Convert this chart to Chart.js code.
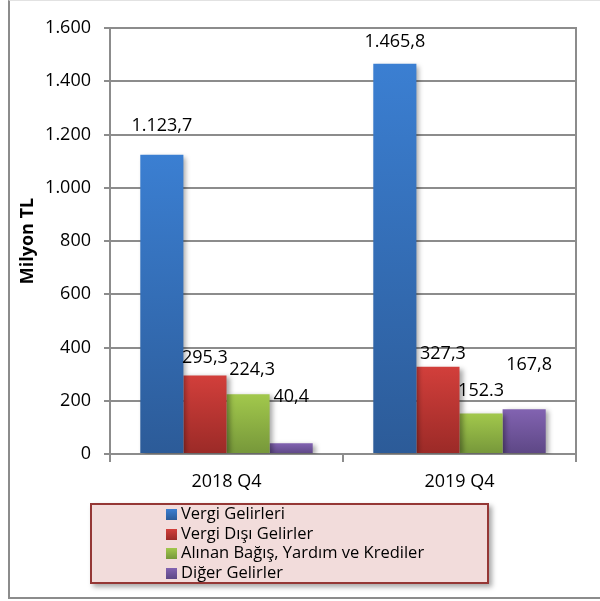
<!DOCTYPE html>
<html>
<head>
<meta charset="utf-8">
<script src="https://cdn.jsdelivr.net/npm/chart.js@4"></script>
<style>
  html, body { margin: 0; padding: 0; background: #fff; }
  #wrap { position: relative; width: 600px; height: 601px; overflow: hidden; }
  #frame { position: absolute; left: 8px; top: 0; width: 600px; height: 599px;
    border-left: 2px solid #8c8c8c; border-bottom: 2px solid #8c8c8c; border-top: 1px solid #e2e2e2;
    box-sizing: border-box; pointer-events: none; }
  #legend { position: absolute; left: 90px; top: 503px; width: 399px; height: 81px; box-sizing: border-box;
    background: #f2dcdb; border: 2px solid #953735; box-shadow: 3px 3px 5px rgba(0,0,0,0.35);
    font-family: "Open Sans", sans-serif; font-size: 16.5px; color: #000; }
  .li { position: absolute; left: 74px; height: 20px; line-height: 20px; white-space: nowrap; }
  .sw { display: inline-block; width: 11px; height: 11px; margin-right: 4px; vertical-align: -1px; }
</style>
</head>
<body>
<div id="wrap">
  <canvas id="c" width="600" height="601"></canvas>
  <div id="frame"></div>
  <div id="legend"></div>
</div>
<script>
const categories = ["2018 Q4", "2019 Q4"];
const seriesNames = ["Vergi Gelirleri", "Vergi Dışı Gelirler", "Alınan Bağış, Yardım ve Krediler", "Diğer Gelirler"];
const vergiGelirleri = [1123.7, 1465.8];
const vergiDisiGelirler = [295.3, 327.3];
const alinanBagis = [224.3, 152.3];
const digerGelirler = [40.4, 167.8];
const valueLabels = [["1.123,7", "1.465,8"], ["295,3", "327,3"], ["224,3", "152.3"], ["40,4", "167,8"]];
const yTicks = [0, 200, 400, 600, 800, 1000, 1200, 1400, 1600];

const topColors = ["#3b7fd2", "#d23f3b", "#a2c84c", "#8263b1"];
const bottomColors = ["#2c5b98", "#9b2a27", "#76973a", "#5d4785"];
const labelOffsets = [[[0, -29], [0, -22]], [[0, -18], [5, -13]], [[4, -24], [0, -23]], [[0, -46], [5, -44]]];

function barGradient(i) {
  return function (ctx) {
    const chart = ctx.chart;
    if (!chart.chartArea || ctx.type !== 'data') return bottomColors[i];
    const y = chart.scales.y;
    const y1 = y.getPixelForValue(ctx.raw), y0 = y.getPixelForValue(0);
    const g = chart.ctx.createLinearGradient(0, y1, 0, y0);
    g.addColorStop(0, topColors[i]);
    g.addColorStop(1, bottomColors[i]);
    return g;
  };
}

const seriesData = [vergiGelirleri, vergiDisiGelirler, alinanBagis, digerGelirler];
const datasets = seriesData.map((d, i) => ({
  label: seriesNames[i], data: d, backgroundColor: barGradient(i), borderWidth: 0,
  categoryPercentage: 0.74, barPercentage: 1
}));

const fmt = v => String(v).replace(/\B(?=(\d{3})+(?!\d))/g, '.');
const FONT = '"Open Sans", sans-serif';

const shadowPlugin = {
  id: 'shadow',
  beforeDatasetsDraw(chart) {
    const c = chart.ctx; c.save();
    c.shadowColor = 'rgba(0,0,0,0.35)'; c.shadowBlur = 5; c.shadowOffsetX = 3; c.shadowOffsetY = 2;
  },
  afterDatasetsDraw(chart) {
    const c = chart.ctx; c.restore();
    const a = chart.chartArea;
    c.save();
    c.strokeStyle = '#8c8c8c'; c.lineWidth = 2;
    c.beginPath(); c.moveTo(a.right, a.top - 1); c.lineTo(a.right, a.bottom + 7); c.stroke();
    c.fillStyle = '#000'; c.font = '18px ' + FONT; c.textAlign = 'center'; c.textBaseline = 'middle';
    chart.data.datasets.forEach((ds, i) => {
      chart.getDatasetMeta(i).data.forEach((bar, j) => {
        const off = labelOffsets[i][j];
        c.fillText(valueLabels[i][j], bar.x + off[0], bar.y + off[1]);
      });
    });
    c.restore();
  }
};

new Chart(document.getElementById('c'), {
  type: 'bar',
  data: { labels: categories, datasets },
  plugins: [shadowPlugin],
  options: {
    responsive: false, animation: false,
    layout: { padding: { top: 28, right: 24, left: 0, bottom: 0 } },
    plugins: { legend: { display: false }, tooltip: { enabled: false } },
    scales: {
      x: {
        grid: { offset: true, drawOnChartArea: false, color: '#8c8c8c', lineWidth: 2, tickLength: 8 },
        border: { color: '#8c8c8c', width: 2 },
        ticks: { color: '#000', font: { family: FONT, size: 18 }, padding: 9 },
        afterFit(s) { s.height = 147; }
      },
      y: {
        min: 0, max: 1600,
        afterBuildTicks(s) { s.ticks = yTicks.map(v => ({ value: v })); },
        grid: { color: '#8c8c8c', lineWidth: 2, tickLength: 6 },
        border: { color: '#8c8c8c', width: 2 },
        ticks: { color: '#000', font: { family: FONT, size: 18 }, padding: 13, callback: v => fmt(v) },
        title: { display: true, text: 'Milyon TL', color: '#000', font: { family: FONT, size: 18, weight: 'bold' }, padding: { top: 17, bottom: 0 } },
        afterFit(s) { s.width = 110; }
      }
    }
  }
});

const leg = document.getElementById('legend');
seriesNames.forEach((n, i) => {
  const d = document.createElement('div');
  d.className = 'li';
  d.style.top = (-2 + i * 19.6) + 'px';
  d.innerHTML = '<span class="sw" style="background:linear-gradient(' + topColors[i] + ',' + bottomColors[i] + ')"></span>' + n;
  leg.appendChild(d);
});
</script>
</body>
</html>
